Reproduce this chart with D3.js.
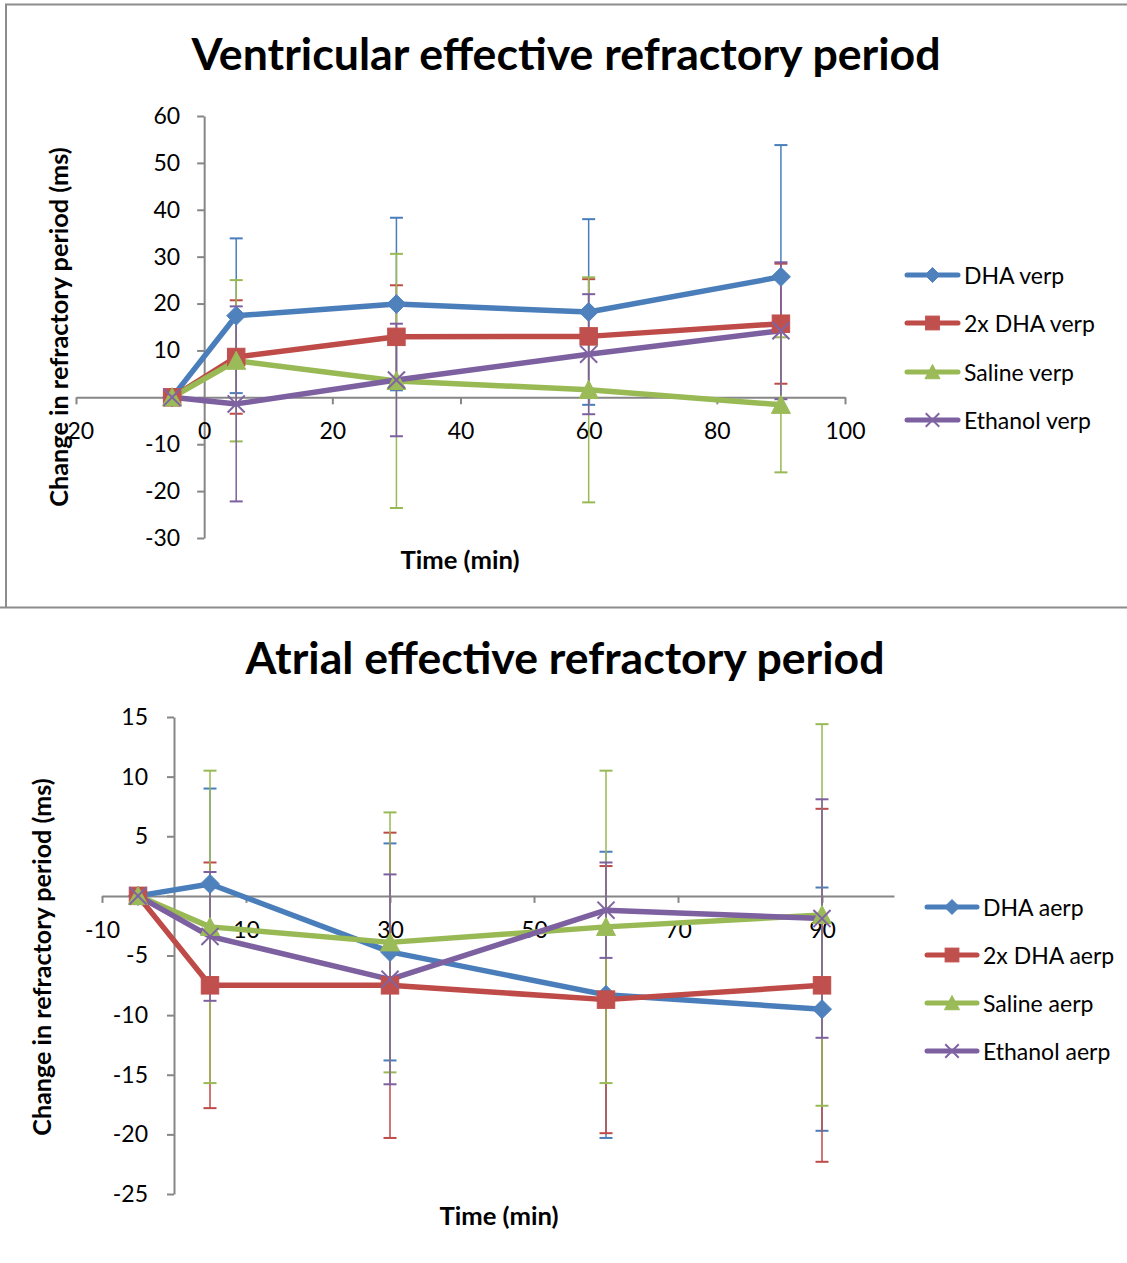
<!DOCTYPE html>
<html>
<head>
<meta charset="utf-8">
<script src="https://cdn.jsdelivr.net/npm/d3@7"></script>
<style>
  html, body { margin: 0; padding: 0; background: #fff; }
  svg { display: block; }
  text { font-family: Lato, "Open Sans", "Liberation Sans", sans-serif; fill: #000; }
</style>
</head>
<body>
<svg id="chart" width="1127" height="1263"></svg>
<script>
// ---------------- DATA ----------------
const times = [-5, 5, 30, 60, 90];

const seriesNamesV = ["DHA verp", "2x DHA verp", "Saline verp", "Ethanol verp"];
const verpDHA      = [0, 17.4, 19.9, 18.2, 25.7];
const verpDHAErr   = [0, 16.5, 18.4, 19.8, 28.1];
const verp2xDHA    = [0, 8.6, 12.9, 13.0, 15.7];
const verp2xDHAErr = [0, 12.1, 11.0, 12.2, 12.8];
const verpSaline   = [0, 7.8, 3.5, 1.6, -1.6];
const verpSalineErr= [0, 17.2, 27.1, 24.0, 14.4];
const verpEthanol  = [0, -1.4, 3.7, 9.2, 14.2];
const verpEthanolErr=[0, 20.8, 12.0, 12.8, 14.6];

const seriesNamesA = ["DHA aerp", "2x DHA aerp", "Saline aerp", "Ethanol aerp"];
const aerpDHA      = [0, 1.0, -4.7, -8.3, -9.5];
const aerpDHAErr   = [0, 8.0, 9.1, 12.0, 10.2];
const aerp2xDHA    = [0, -7.5, -7.5, -8.7, -7.5];
const aerp2xDHAErr = [0, 10.3, 12.8, 11.2, 14.8];
const aerpSaline   = [0, -2.6, -3.9, -2.6, -1.6];
const aerpSalineErr= [0, 13.1, 10.9, 13.1, 16.0];
const aerpEthanol  = [0, -3.4, -7.0, -1.2, -1.9];
const aerpEthanolErr=[0, 5.4, 8.8, 4.0, 10.0];

const xTicksV = [-20, 0, 20, 40, 60, 80, 100];
const yTicksV = [-30, -20, -10, 0, 10, 20, 30, 40, 50, 60];
const xTicksA = [-10, 10, 30, 50, 70, 90];
const yTicksA = [-25, -20, -15, -10, -5, 0, 5, 10, 15];

const titleV = "Ventricular effective refractory period";
const titleA = "Atrial effective refractory period";
const xLabel = "Time (min)";
const yLabel = "Change in refractory period (ms)";

// ---------------- STYLE ----------------
const lineColors   = ["#4A7EBB", "#BE4B48", "#98B954", "#7D60A0"];
const markerColors = ["#4F81BD", "#C0504D", "#9BBB59", "#8064A2"];
const markerTypes  = ["diamond", "square", "triangle", "x"];
const axisColor = "#868686";

const svg = d3.select("#chart");

function fitText(sel, target) {
  let fs = parseFloat(sel.attr("font-size"));
  for (let i = 0; i < 4; i++) {
    const w = sel.node().getComputedTextLength();
    if (w > 0) { fs = fs * target / w; sel.attr("font-size", fs); }
  }
}

function drawMarker(g, type, cx, cy, size, i) {
  const h = size / 2;
  if (type === "diamond") {
    g.append("path")
      .attr("d", `M${cx},${cy - h}L${cx + h},${cy}L${cx},${cy + h}L${cx - h},${cy}Z`)
      .attr("fill", markerColors[i]).attr("stroke", markerColors[i]).attr("stroke-width", 1);
  } else if (type === "square") {
    const s = size * 0.92;
    g.append("rect").attr("x", cx - s / 2).attr("y", cy - s / 2).attr("width", s).attr("height", s)
      .attr("fill", markerColors[i]).attr("stroke", markerColors[i]).attr("stroke-width", 1);
  } else if (type === "triangle") {
    g.append("path")
      .attr("d", `M${cx},${cy - h}L${cx + h},${cy + h * 0.9}L${cx - h},${cy + h * 0.9}Z`)
      .attr("fill", markerColors[i]).attr("stroke", markerColors[i]).attr("stroke-width", 1);
  } else {
    const k = h * 0.9;
    g.append("path")
      .attr("d", `M${cx - k},${cy - k}L${cx + k},${cy + k}M${cx - k},${cy + k}L${cx + k},${cy - k}`)
      .attr("fill", "none").attr("stroke", markerColors[i]).attr("stroke-width", 2);
  }
}

function drawChart(cfg) {
  const g = svg.append("g");
  const x = d3.scaleLinear().domain(cfg.xDomain).range(cfg.xRange);
  const y = d3.scaleLinear().domain(cfg.yDomain).range(cfg.yRange);
  const fmt = d => String(d);

  // Axes
  const yAxis = d3.axisLeft(y).tickValues(cfg.yTicks).tickSizeInner(7).tickSizeOuter(0)
    .tickPadding(cfg.yPad).tickFormat(fmt);
  const yg = g.append("g").attr("transform", `translate(${x(0)},0)`).call(yAxis);
  const xAxis = d3.axisBottom(x).tickValues(cfg.xTicks).tickSizeInner(7).tickSizeOuter(0)
    .tickPadding(cfg.xPad).tickFormat(fmt);
  const xg = g.append("g").attr("transform", `translate(0,${y(0)})`).call(xAxis);
  [xg, yg].forEach(a => {
    a.select(".domain").attr("stroke", axisColor).attr("stroke-width", 2);
    a.selectAll(".tick line").attr("stroke", axisColor).attr("stroke-width", 2);
    a.selectAll(".tick text").attr("font-size", 23).attr("fill", "#000")
      .style("font-family", "Lato, 'Open Sans', sans-serif");
  });

  // Error bars
  const eg = g.append("g");
  cfg.series.forEach((s, i) => {
    s.values.forEach((v, j) => {
      const e = s.errors[j];
      if (!e) return;
      const cx = x(times[j]);
      const y1 = y(v + e), y2 = y(v - e);
      eg.append("line").attr("x1", cx).attr("x2", cx).attr("y1", y1).attr("y2", y2)
        .attr("stroke", lineColors[i]).attr("stroke-width", 1.5);
      [y1, y2].forEach(yy => {
        eg.append("line").attr("x1", cx - 6.5).attr("x2", cx + 6.5).attr("y1", yy).attr("y2", yy)
          .attr("stroke", lineColors[i]).attr("stroke-width", 2);
      });
    });
  });

  // Lines
  const line = d3.line().x((d, j) => x(times[j])).y(d => y(d));
  cfg.series.forEach((s, i) => {
    g.append("path").datum(s.values).attr("d", line)
      .attr("fill", "none").attr("stroke", lineColors[i]).attr("stroke-width", 5.5)
      .attr("stroke-linejoin", "round").attr("stroke-linecap", "round");
  });

  // Markers
  cfg.series.forEach((s, i) => {
    const mg = g.append("g");
    s.values.forEach((v, j) => drawMarker(mg, markerTypes[i], x(times[j]), y(v), 19, i));
  });

  // Title
  const t = g.append("text").attr("x", cfg.titleX).attr("y", cfg.titleY)
    .attr("text-anchor", "middle").attr("font-weight", "bold").attr("font-size", 40).text(cfg.title);
  fitText(t, cfg.titleW);

  // Axis titles
  const xt = g.append("text").attr("x", cfg.xLabelX).attr("y", cfg.xLabelY)
    .attr("text-anchor", "middle").attr("dominant-baseline", "central")
    .attr("font-weight", "bold").attr("font-size", 22).text(xLabel);
  fitText(xt, 119);
  const yt = g.append("text")
    .attr("transform", `translate(${cfg.yLabelX},${cfg.yLabelY}) rotate(-90)`)
    .attr("text-anchor", "middle").attr("dominant-baseline", "central")
    .attr("font-weight", "bold").attr("font-size", 22).text(yLabel);
  fitText(yt, cfg.yLabelW);

  // Legend
  const lg = g.append("g");
  cfg.series.forEach((s, i) => {
    const ly = cfg.legY[i];
    lg.append("line").attr("x1", cfg.legX1).attr("x2", cfg.legX2).attr("y1", ly).attr("y2", ly)
      .attr("stroke", lineColors[i]).attr("stroke-width", 5).attr("stroke-linecap", "round");
    drawMarker(lg, markerTypes[i], (cfg.legX1 + cfg.legX2) / 2, ly, 15, i);
    lg.append("text").attr("x", cfg.legTextX).attr("y", ly).attr("dominant-baseline", "central")
      .attr("font-size", 23).text(s.name);
  });
}

// Frame around the top chart
svg.append("path").attr("d", "M0,607.5H1127M6,607.5V4.5H1127")
  .attr("fill", "none").attr("stroke", "#8c8c8c").attr("stroke-width", 2);

drawChart({
  xDomain: [-20, 100], xRange: [76, 845],
  yDomain: [-30, 60], yRange: [538, 116],
  xTicks: xTicksV, yTicks: yTicksV, xPad: 18, yPad: 17,
  series: [
    { name: seriesNamesV[0], values: verpDHA, errors: verpDHAErr },
    { name: seriesNamesV[1], values: verp2xDHA, errors: verp2xDHAErr },
    { name: seriesNamesV[2], values: verpSaline, errors: verpSalineErr },
    { name: seriesNamesV[3], values: verpEthanol, errors: verpEthanolErr }
  ],
  title: titleV, titleX: 566, titleY: 70, titleW: 749,
  xLabelX: 460, xLabelY: 559,
  yLabelX: 58, yLabelY: 327, yLabelW: 359,
  legX1: 907, legX2: 958, legTextX: 964, legY: [275, 323, 372, 420]
});

drawChart({
  xDomain: [-10, 100], xRange: [102, 894],
  yDomain: [-25, 15], yRange: [1194, 717],
  xTicks: xTicksA, yTicks: yTicksA, xPad: 19, yPad: 19,
  series: [
    { name: seriesNamesA[0], values: aerpDHA, errors: aerpDHAErr },
    { name: seriesNamesA[1], values: aerp2xDHA, errors: aerp2xDHAErr },
    { name: seriesNamesA[2], values: aerpSaline, errors: aerpSalineErr },
    { name: seriesNamesA[3], values: aerpEthanol, errors: aerpEthanolErr }
  ],
  title: titleA, titleX: 565, titleY: 674, titleW: 639,
  xLabelX: 499, xLabelY: 1215,
  yLabelX: 41, yLabelY: 957, yLabelW: 357,
  legX1: 927, legX2: 977, legTextX: 983, legY: [907, 955, 1003, 1051]
});
</script>
</body>
</html>
